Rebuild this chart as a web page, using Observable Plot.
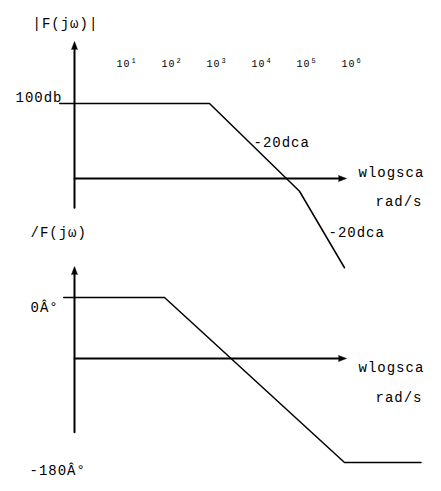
<!DOCTYPE html>
<html>
<head>
<meta charset="utf-8">
<script src="https://cdn.jsdelivr.net/npm/d3@7"></script>
<script src="https://cdn.jsdelivr.net/npm/@observablehq/plot@0.6"></script>
<style>
  html, body { margin: 0; padding: 0; background: #fff; }
  #chart svg { display: block; }
</style>
</head>
<body>
<div id="chart"></div>
<script>
// x positions are in decades (log10 ω); magnitude in dB; phase in degrees
const decades = [1, 2, 3, 4, 5, 6];
const tickBase = "10";
const tickExp = ["1", "2", "3", "4", "5", "6"];

// magnitude asymptote (decade, dB)
const magX = [-0.53, 2.8, 4.8, 5.8];
const magY = [100, 100, -17, -119];

// phase asymptote (decade, degrees)
const phaseX = [-0.44, 1.8, 5.8, 7.5];
const phaseY = [0, 0, -180, -180];

// axes
const magAxisX = -0.2, magAxisYMin = -39, magAxisYMax = 172, magAxisLevel = 0, magAxisEnd = 5.667;
const phAxisX = -0.2, phAxisYMin = -147, phAxisYMax = 25, phAxisLevel = -66.5, phAxisEnd = 5.667;

// annotation labels
const magLabels = ["|F(jω)|", "100db", "-20dca", "wlogsca", "rad/s", "-20dca"];
const magLabelX = [-1.133, -1.511, 3.778, 6.111, 6.489, 5.444];
const magLabelY = [206.7, 108, 48, 8, -30.7, -72];
const tickLabelY = 153;

const phLabels = ["/F(jω)", "0Â°", "wlogsca", "rad/s", "-180Â°"];
const phLabelX = [-1.178, -1.178, 6.111, 6.489, -1.2];
const phLabelY = [70.9, -10.9, -76.4, -109, -188.7];

const zip = (xs, ys) => xs.map((x, i) => ({x, y: ys[i]}));
const style = "font-family:'Liberation Mono',monospace;font-size:14px;letter-spacing:1px;background:#fff;color:#000;overflow:visible";
const xScale = {domain: [1, 6], range: [128, 353], axis: null};

const magPlot = Plot.plot({
  width: 441, height: 230,
  margin: 0,
  style,
  x: xScale,
  y: {domain: [0, 100], range: [178, 103], axis: null},
  marks: [
    Plot.line([{x: magAxisX, y: magAxisYMin}, {x: magAxisX, y: magAxisYMax}], {x: "x", y: "y", stroke: "black", strokeWidth: 2}),
    Plot.line([{x: magAxisX, y: magAxisLevel}, {x: magAxisEnd, y: magAxisLevel}], {x: "x", y: "y", stroke: "black", strokeWidth: 2}),
    Plot.vector([{x: magAxisX, y: magAxisYMax}], {x: "x", y: "y", shape: "spike", length: 8, r: 3, rotate: 0, anchor: "start", fill: "black", stroke: "black", strokeWidth: 0.5}),
    Plot.vector([{x: magAxisEnd, y: magAxisLevel}], {x: "x", y: "y", shape: "spike", length: 8, r: 3, rotate: 90, anchor: "start", fill: "black", stroke: "black", strokeWidth: 0.5}),
    Plot.line(zip(magX, magY), {x: "x", y: "y", stroke: "black", strokeWidth: 1.5}),
    Plot.text(decades, {x: d => d, y: () => tickLabelY, text: () => tickBase, textAnchor: "end", dx: 2, fontSize: 10, style: "letter-spacing:0"}),
    Plot.text(decades, {x: d => d, y: () => tickLabelY, text: (d, i) => tickExp[i], textAnchor: "start", dx: 3, dy: -3, fontSize: 7}),
    Plot.text(magLabels, {x: (d, i) => magLabelX[i], y: (d, i) => magLabelY[i], text: d => d, textAnchor: "start", fontSize: 14})
  ]
});

const phasePlot = Plot.plot({
  width: 441, height: 261,
  margin: 0,
  style,
  x: xScale,
  y: {domain: [0, -180], range: [67, 232], axis: null},
  marks: [
    Plot.line([{x: phAxisX, y: phAxisYMin}, {x: phAxisX, y: phAxisYMax}], {x: "x", y: "y", stroke: "black", strokeWidth: 2}),
    Plot.line([{x: phAxisX, y: phAxisLevel}, {x: phAxisEnd, y: phAxisLevel}], {x: "x", y: "y", stroke: "black", strokeWidth: 2}),
    Plot.vector([{x: phAxisX, y: phAxisYMax}], {x: "x", y: "y", shape: "spike", length: 8, r: 3, rotate: 0, anchor: "start", fill: "black", stroke: "black", strokeWidth: 0.5}),
    Plot.vector([{x: phAxisEnd, y: phAxisLevel}], {x: "x", y: "y", shape: "spike", length: 8, r: 3, rotate: 90, anchor: "start", fill: "black", stroke: "black", strokeWidth: 0.5}),
    Plot.line(zip(phaseX, phaseY), {x: "x", y: "y", stroke: "black", strokeWidth: 1.5}),
    Plot.text(phLabels, {x: (d, i) => phLabelX[i], y: (d, i) => phLabelY[i], text: d => d, textAnchor: "start", fontSize: 14})
  ]
});

document.getElementById("chart").append(magPlot, phasePlot);
</script>
</body>
</html>
